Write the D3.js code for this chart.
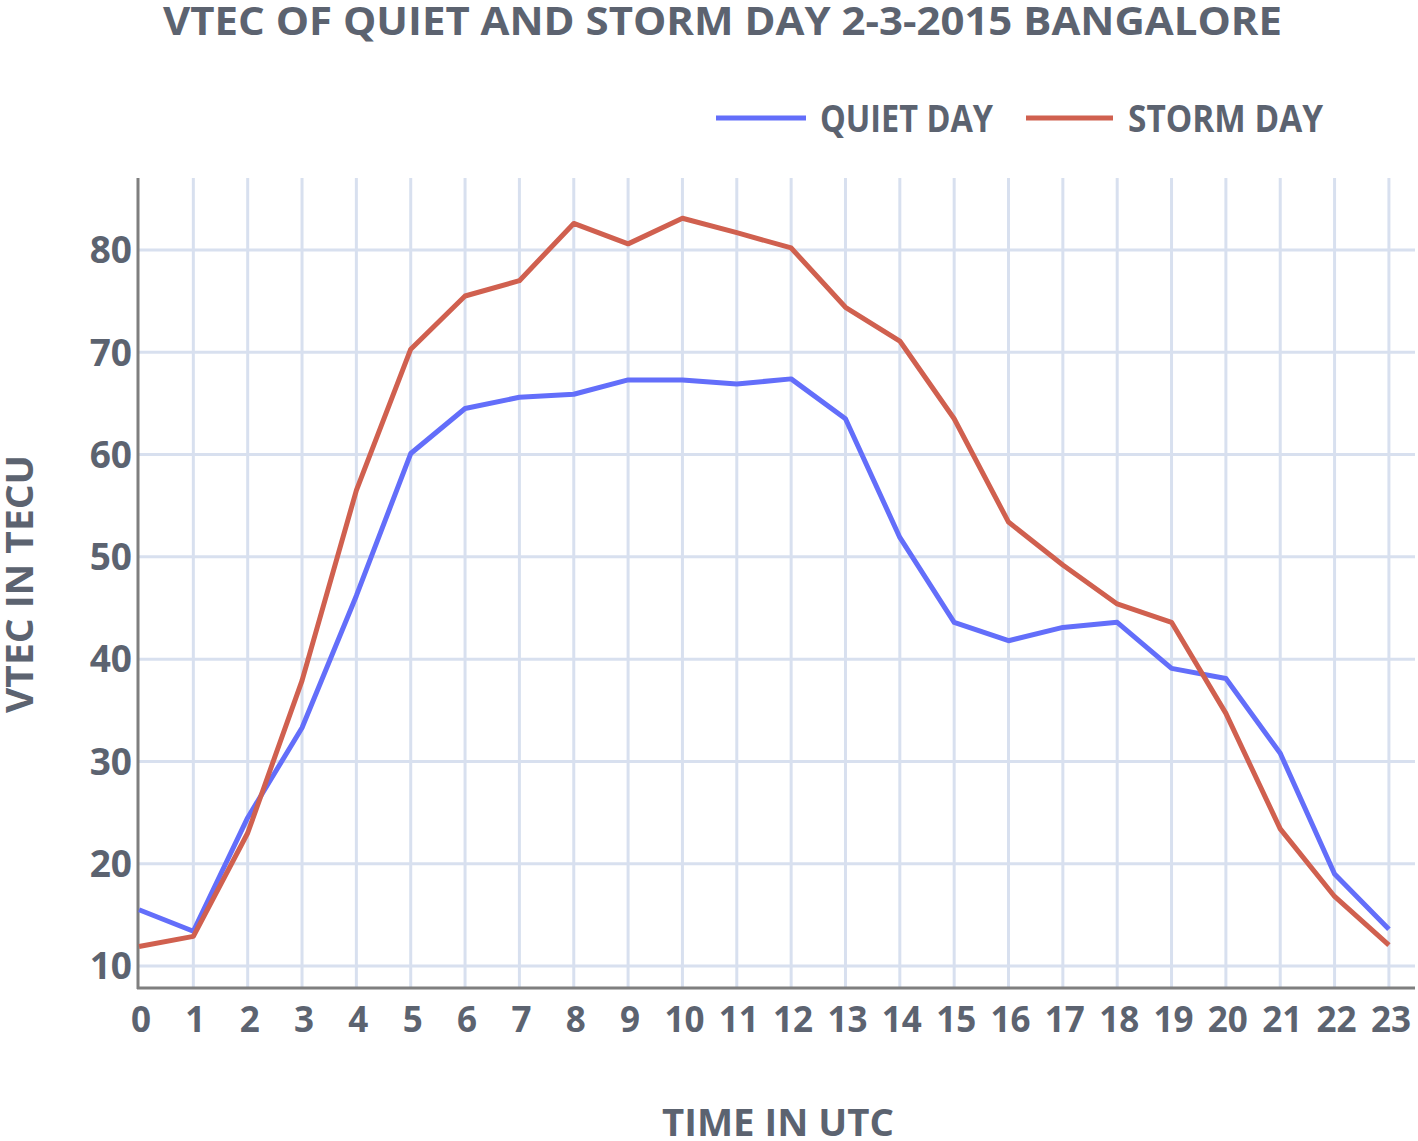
<!DOCTYPE html>
<html>
<head>
<meta charset="utf-8">
<script src="https://cdn.jsdelivr.net/npm/d3@7"></script>
<style>
  body { margin: 0; background: #fff; }
  text { font-family: "Open Sans", sans-serif; font-weight: 700; fill: #5c6370; }
</style>
</head>
<body>
<div id="chart"></div>
<script>
// hours on the x axis
var hours = d3.range(0, 24);

// VTEC values (TECU)
var quietDay = [15.5, 13.4, 24.5, 33.3, 46.2, 60.1, 64.5, 65.6, 65.9, 67.3, 67.3, 66.9,
  67.4, 63.5, 51.9, 43.6, 41.8, 43.1, 43.6, 39.1, 38.1, 30.8, 19.0, 13.6];
var stormDay = [11.9, 12.9, 23.0, 37.9, 56.5, 70.3, 75.5, 77.0, 82.6, 80.6, 83.1, 81.7,
  80.2, 74.4, 71.1, 63.5, 53.4, 49.2, 45.4, 43.6, 34.7, 23.4, 16.8, 12.05];

var yTicks = [10, 20, 30, 40, 50, 60, 70, 80];
var seriesNames = ["QUIET DAY", "STORM DAY"];
var seriesColors = ["#636efa", "#d0604f"];

var svgWidth = 1418;
var svgHeight = 1141;

var plot = { left: 138, right: 1415, top: 178, bottom: 988 };

var svg = d3.select("#chart")
  .append("svg")
  .attr("width", svgWidth)
  .attr("height", svgHeight);

var xScale = d3.scaleLinear()
  .domain([0, 23.48])
  .range([139, plot.right]);

var yScale = d3.scaleLinear()
  .domain([10, 80])
  .range([966, 250]);

// grid
svg.append("g")
  .selectAll("line")
  .data(hours.slice(1))
  .enter()
  .append("line")
  .attr("x1", d => xScale(d))
  .attr("x2", d => xScale(d))
  .attr("y1", plot.top)
  .attr("y2", plot.bottom)
  .attr("stroke", "#d8e0ef")
  .attr("stroke-width", 3);

svg.append("g")
  .selectAll("line")
  .data(yTicks)
  .enter()
  .append("line")
  .attr("x1", plot.left)
  .attr("x2", plot.right)
  .attr("y1", d => yScale(d))
  .attr("y2", d => yScale(d))
  .attr("stroke", "#d8e0ef")
  .attr("stroke-width", 3);

// axes lines
svg.append("line")
  .attr("x1", plot.left).attr("x2", plot.left)
  .attr("y1", plot.top).attr("y2", plot.bottom + 1)
  .attr("stroke", "#7f7f7f").attr("stroke-width", 3);

svg.append("line")
  .attr("x1", plot.left - 1).attr("x2", plot.right)
  .attr("y1", plot.bottom).attr("y2", plot.bottom)
  .attr("stroke", "#7f7f7f").attr("stroke-width", 3);

// tick labels
svg.append("g")
  .selectAll("text")
  .data(yTicks)
  .enter()
  .append("text")
  .attr("x", 132)
  .attr("y", d => yScale(d))
  .attr("dy", "0.36em")
  .attr("text-anchor", "end")
  .style("font-size", "37px")
  .text(d => d);

svg.append("g")
  .selectAll("text")
  .data(hours)
  .enter()
  .append("text")
  .attr("x", d => xScale(d) + 2)
  .attr("y", 1032)
  .attr("text-anchor", "middle")
  .style("font-size", "35px")
  .text(d => d);

// lines
var line = d3.line()
  .x((d, i) => xScale(hours[i]))
  .y(d => yScale(d));

[quietDay, stormDay].forEach(function(values, i) {
  svg.append("path")
    .datum(values)
    .attr("d", line)
    .attr("fill", "none")
    .attr("stroke", seriesColors[i])
    .attr("stroke-width", 5)
    .attr("stroke-linejoin", "round");
});

// title
svg.append("text")
  .attr("x", 163)
  .attr("y", 35)
  .attr("textLength", 1119)
  .attr("lengthAdjust", "spacingAndGlyphs")
  .style("font-size", "39px")
  .text("VTEC OF QUIET AND STORM DAY 2-3-2015 BANGALORE");

// legend
var legendItems = [
  { x1: 716, x2: 806, tx: 820, tw: 173 },
  { x1: 1026, x2: 1113, tx: 1128, tw: 195 }
];

legendItems.forEach(function(item, i) {
  svg.append("line")
    .attr("x1", item.x1).attr("x2", item.x2)
    .attr("y1", 118).attr("y2", 118)
    .attr("stroke", seriesColors[i])
    .attr("stroke-width", 5);
  svg.append("text")
    .attr("x", item.tx)
    .attr("y", 132)
    .attr("textLength", item.tw)
    .attr("lengthAdjust", "spacingAndGlyphs")
    .style("font-size", "38px")
    .text(seriesNames[i]);
});

// axis titles
svg.append("text")
  .attr("x", 662)
  .attr("y", 1136)
  .attr("textLength", 232)
  .attr("lengthAdjust", "spacingAndGlyphs")
  .style("font-size", "37px")
  .text("TIME IN UTC");

svg.append("text")
  .attr("transform", "translate(33, 713) rotate(-90)")
  .attr("textLength", 258)
  .attr("lengthAdjust", "spacingAndGlyphs")
  .style("font-size", "37px")
  .text("VTEC IN TECU");
</script>
</body>
</html>
